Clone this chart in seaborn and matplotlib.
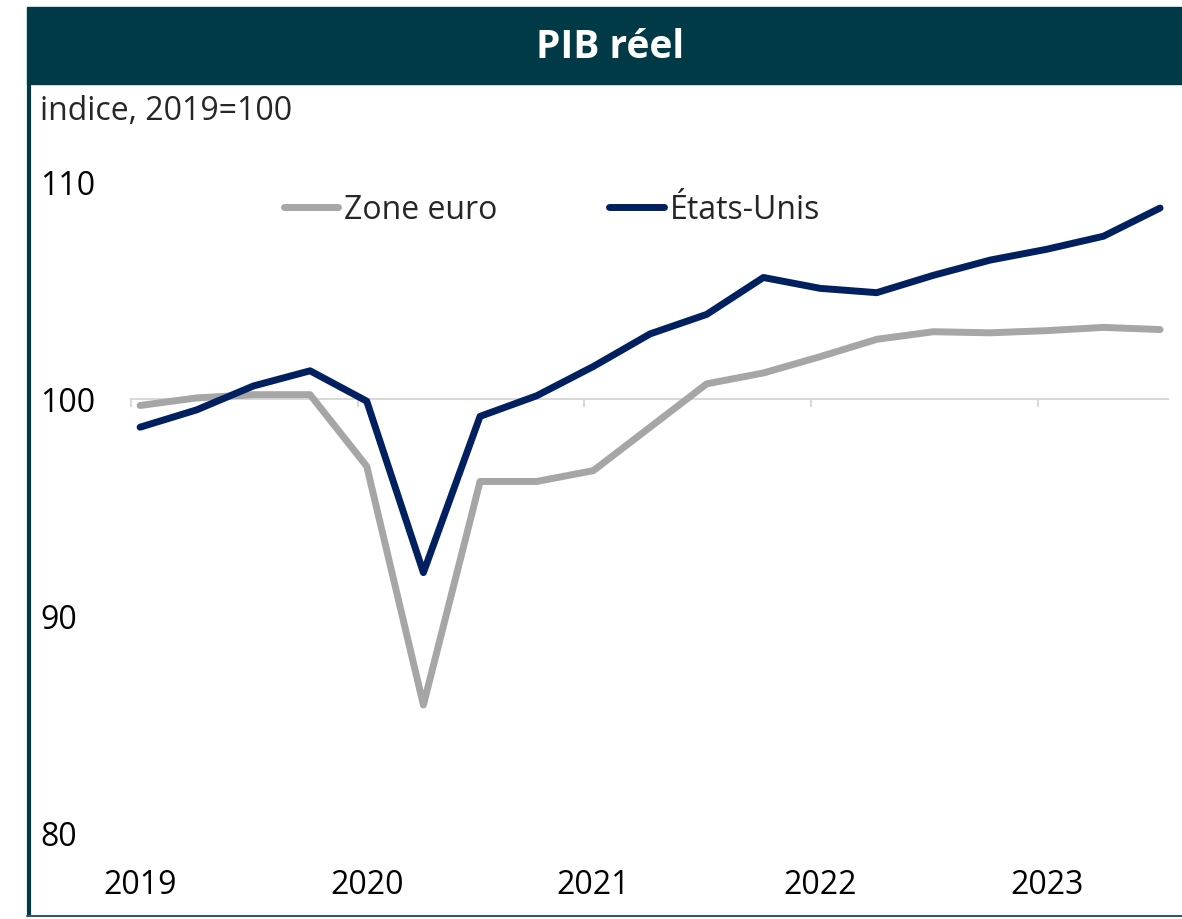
import matplotlib
matplotlib.use("Agg")
import matplotlib.pyplot as plt
from matplotlib.patches import Rectangle
from matplotlib.lines import Line2D
import numpy as np
import pandas as pd
import seaborn as sns

# ===== données (indice, 2019=100), trimestriel 2019T1 - 2023T3 =====
trimestres = [f"{a}T{q}" for a in range(2019, 2024) for q in range(1, 5)][:19]
zone_euro = [99.7, 100.05, 100.2, 100.2, 96.9, 85.9, 96.2, 96.2, 96.7, 98.7,
             100.7, 101.2, 101.95, 102.75, 103.1, 103.05, 103.15, 103.3, 103.2]
etats_unis = [98.7, 99.5, 100.6, 101.3, 99.9, 92.0, 99.2, 100.15, 101.5, 103.0,
              103.9, 105.6, 105.1, 104.9, 105.7, 106.4, 106.9, 107.5, 108.8]
annees = ["2019", "2020", "2021", "2022", "2023"]
series = ["Zone euro", "États-Unis"]

pos = list(range(len(trimestres)))
df = pd.DataFrame({
    "trimestre": trimestres * 2,
    "pos": pos * 2,
    "valeur": zone_euro + etats_unis,
    "serie": [series[0]] * len(trimestres) + [series[1]] * len(trimestres),
})

# ===== style =====
sns.set_theme(style="white")
plt.rcParams['font.family'] = ['Open Sans', 'DejaVu Sans']

W, H = 1182, 920
fig = plt.figure(figsize=(W / 100, H / 100), dpi=100)
ax = fig.add_axes([131 / W, 1 - 834 / H, (1168 - 131) / W, (834 - 183) / H])

sns.lineplot(data=df, x="pos", y="valeur", hue="serie", hue_order=series,
             palette={"Zone euro": "#a6a6a6", "États-Unis": "#002060"},
             linewidth=5, ax=ax, legend=True)
for ln in ax.get_lines():
    ln.set_solid_capstyle("round")
    ln.set_solid_joinstyle("round")

ax.set_xlim(-0.16, 18.14)
ax.set_ylim(80, 110)
for s in ax.spines.values():
    s.set_visible(False)
ax.set_xlabel("")
ax.set_ylabel("")

# axe horizontal à 100 avec marques aux changements d'année
annee_pos = [pos[i] for i, t in enumerate(trimestres) if t.endswith("T1")]
sec = ax.secondary_xaxis(100, transform=ax.transData)
sec.set_alignment("bottom")
sec.set_xticks([p - 0.16 for p in annee_pos], labels=[""] * len(annee_pos))
sec.tick_params(direction="out", length=6, width=1.5, color="#d9d9d9")
sec.spines["bottom"].set_color("#d9d9d9")
sec.spines["bottom"].set_linewidth(1.5)
sec.set_zorder(0)

ax.set_xticks(annee_pos, labels=annees)
ax.set_yticks([80, 90, 100, 110])
ax.tick_params(axis="x", length=0, pad=25, labelsize=23, colors="black")
ax.tick_params(axis="y", length=0, pad=65.5, labelsize=23, colors="black")
for lab in ax.get_yticklabels():
    lab.set_ha("left")

leg = ax.legend(loc="center", bbox_to_anchor=(0.406, 0.958), ncol=2, frameon=False,
                fontsize=23, handlelength=1.7, handletextpad=0.2, columnspacing=3.5)
for h in leg.get_lines():
    h.set_linewidth(5)

# ===== cadre et titre =====
teal = "#003a46"
fig.patches.append(Rectangle((27 / W, 1 - 85 / H), 1 - 27 / W, 77 / H,
                             transform=fig.transFigure, color=teal, zorder=0))
fig.text(610 / W, 1 - 47 / H, "PIB réel", color="white", fontsize=28,
         fontweight="bold", ha="center", va="center")
fig.lines.append(Line2D([28.5 / W, 28.5 / W], [1 - 916 / H, 1 - 85 / H],
                        transform=fig.transFigure, color=teal, linewidth=3))
fig.lines.append(Line2D([27 / W, 1], [1 - 916.5 / H, 1 - 916.5 / H],
                        transform=fig.transFigure, color="#2f5a63", linewidth=1.5))
fig.text(40 / W, 1 - 112 / H, "indice, 2019=100", fontsize=23,
         ha="left", va="center")

fig.savefig("out.png", dpi=100)
